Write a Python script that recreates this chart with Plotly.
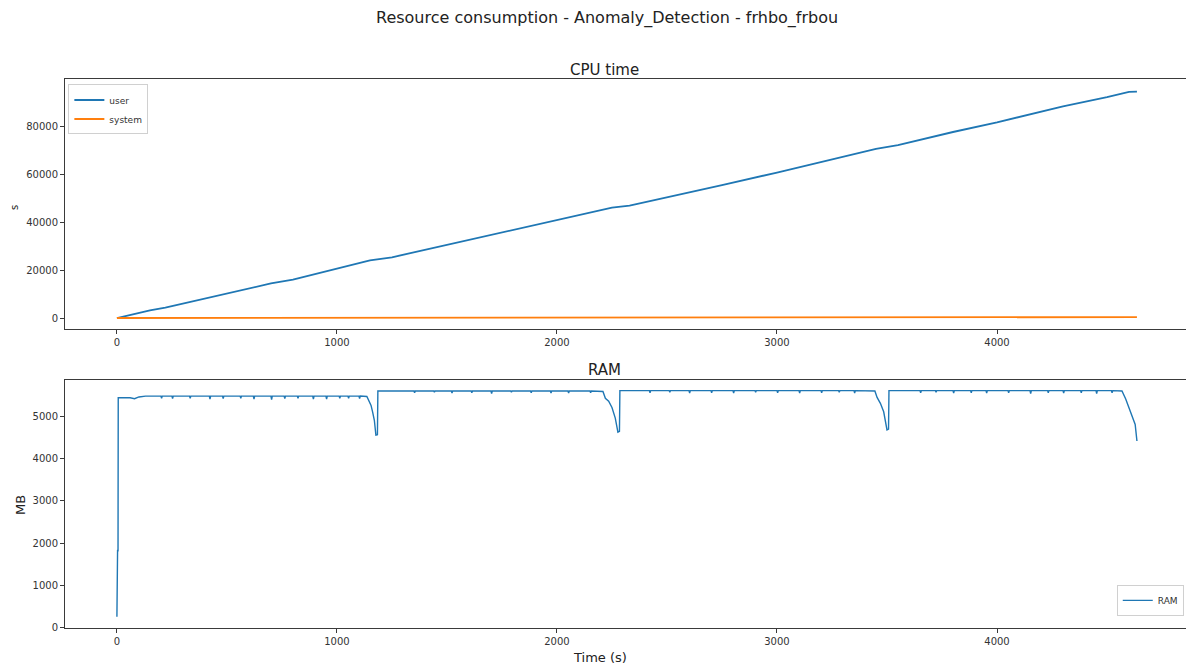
import plotly.graph_objects as go

# ---- CPU time (cumulative seconds) ----
cpu_t = [0, 150, 220, 500, 700, 800, 1000, 1150, 1250, 1500, 1750, 2000,
         2250, 2330, 2500, 2750, 3000, 3250, 3450, 3550, 3800, 4000, 4300,
         4500, 4600, 4636]
cpu_user = [0, 3200, 4300, 10300, 14400, 16000, 20500, 24000, 25300, 30400,
            35600, 40800, 46000, 46800, 50200, 55400, 60600, 66000, 70500,
            72000, 77500, 81500, 88200, 92000, 94200, 94300]
cpu_system = [0, 10, 15, 40, 55, 62, 80, 92, 100, 120, 140, 160, 180, 186,
              200, 220, 240, 260, 276, 284, 304, 320, 344, 360, 368, 371]

# ---- RAM usage (MB) ----
ram_t = [0, 1, 2, 3, 5, 6, 60, 80, 100, 130,
         200, 203, 206, 250, 253, 256, 330, 333, 336, 420, 423, 426,
         480, 483, 486, 560, 563, 566, 620, 623, 626, 700, 703, 706,
         760, 763, 766, 820, 823, 826, 890, 893, 896, 950, 953, 956,
         1010, 1013, 1016, 1050, 1053, 1056, 1100, 1103, 1106,
         1136, 1148, 1155, 1162, 1170, 1177, 1184, 1186,
         1350, 1353, 1356, 1440, 1443, 1446, 1520, 1523, 1526, 1610, 1613, 1616,
         1700, 1703, 1706, 1790, 1793, 1796, 1880, 1883, 1886, 1970, 1973, 1976,
         2050, 2053, 2056, 2150, 2153, 2156,
         2209, 2220, 2235, 2250, 2265, 2277, 2284, 2286,
         2420, 2423, 2426, 2510, 2513, 2516, 2600, 2603, 2606, 2700, 2703, 2706,
         2800, 2803, 2806, 2900, 2903, 2906, 3000, 3003, 3006, 3100, 3103, 3106,
         3200, 3203, 3206, 3280, 3283, 3286, 3350, 3353, 3356,
         3445, 3455, 3470, 3485, 3500, 3507, 3509,
         3650, 3653, 3656, 3720, 3723, 3726, 3800, 3803, 3806, 3880, 3883, 3886,
         3950, 3953, 3956, 4050, 4053, 4056, 4150, 4153, 4156, 4230, 4233, 4236,
         4300, 4303, 4306, 4380, 4383, 4386, 4450, 4453, 4456, 4520, 4523, 4526,
         4568, 4585, 4600, 4615, 4628, 4636]
ram_mb = [260, 940, 730, 1840, 1800, 5430, 5430, 5410, 5450, 5470,
          5470, 5420, 5470, 5470, 5410, 5470, 5470, 5420, 5470, 5470, 5400, 5470,
          5470, 5410, 5470, 5470, 5420, 5470, 5470, 5400, 5470, 5470, 5390, 5470,
          5470, 5410, 5470, 5470, 5420, 5470, 5470, 5400, 5470, 5470, 5400, 5470,
          5470, 5420, 5470, 5470, 5420, 5470, 5470, 5410, 5470,
          5460, 5330, 5250, 5100, 4900, 4550, 4560, 5590,
          5590, 5550, 5590, 5590, 5560, 5590, 5590, 5540, 5590, 5590, 5550, 5590,
          5590, 5530, 5590, 5590, 5560, 5590, 5590, 5550, 5590, 5590, 5540, 5590,
          5590, 5540, 5590, 5590, 5550, 5590,
          5580, 5420, 5350, 5200, 4950, 4620, 4640, 5600,
          5600, 5550, 5600, 5600, 5560, 5600, 5600, 5540, 5600, 5600, 5550, 5600,
          5600, 5540, 5600, 5600, 5560, 5600, 5600, 5550, 5600, 5600, 5540, 5600,
          5600, 5550, 5600, 5600, 5560, 5600, 5600, 5540, 5600,
          5590, 5440, 5300, 5100, 4670, 4690, 5600,
          5600, 5550, 5600, 5600, 5560, 5600, 5600, 5540, 5600, 5600, 5550, 5600,
          5600, 5540, 5600, 5600, 5550, 5600, 5600, 5530, 5600, 5600, 5550, 5600,
          5600, 5540, 5600, 5600, 5550, 5600, 5600, 5530, 5600, 5600, 5550, 5600,
          5590, 5400, 5200, 5000, 4800, 4410]

x_ticks = [0, 1000, 2000, 3000, 4000]
cpu_ticks = [0, 20000, 40000, 60000, 80000]
ram_ticks = [0, 1000, 2000, 3000, 4000, 5000]

BLUE = "#1f77b4"
ORANGE = "#ff7f0e"
FONT = "DejaVu Sans"
SPINE = "#3a3a3a"

fig = go.Figure()
fig.add_trace(go.Scatter(x=cpu_t, y=cpu_user, mode="lines", name="user",
                         line=dict(color=BLUE, width=1.8),
                         xaxis="x", yaxis="y", legend="legend"))
fig.add_trace(go.Scatter(x=cpu_t, y=cpu_system, mode="lines", name="system",
                         line=dict(color=ORANGE, width=1.8),
                         xaxis="x", yaxis="y", legend="legend"))
fig.add_trace(go.Scatter(x=ram_t, y=ram_mb, mode="lines", name="RAM",
                         line=dict(color=BLUE, width=1.4),
                         xaxis="x2", yaxis="y2", legend="legend2"))

axis_common = dict(showgrid=False, zeroline=False, showline=True,
                   linecolor=SPINE, linewidth=1, ticks="outside", ticklen=4,
                   tickcolor=SPINE, tickfont=dict(family=FONT, size=10, color="#333"))

top_dom = [0.5446, 1.0]
bot_dom = [0.0, 0.4517]

fig.update_layout(
    width=1186, height=668,
    margin=dict(l=65, r=0, t=79, b=40),
    paper_bgcolor="white", plot_bgcolor="white",
    font=dict(family=FONT, color="#222"),
    xaxis=dict(domain=[0, 1], anchor="y", range=[-236, 4859], mirror=True,
               tickvals=x_ticks, **axis_common),
    yaxis=dict(domain=top_dom, anchor="x", range=[-4583, 99583], mirror=False,
               tickvals=cpu_ticks, tickformat="d", **axis_common),
    xaxis2=dict(domain=[0, 1], anchor="y2", range=[-236, 4859], mirror=True,
                tickvals=x_ticks, **axis_common),
    yaxis2=dict(domain=bot_dom, anchor="x2", range=[-5, 5850], mirror=False,
                tickvals=ram_ticks, tickformat="d", **axis_common),
    legend=dict(x=0.003, y=0.99, xanchor="left", yanchor="top",
                bgcolor="rgba(255,255,255,0.9)", bordercolor="#d0d0d0", borderwidth=1,
                font=dict(family=FONT, size=9, color="#333"),
                itemwidth=30, tracegroupgap=0),
    legend2=dict(x=0.998, y=0.022, xanchor="right", yanchor="bottom",
                 bgcolor="rgba(255,255,255,0.9)", bordercolor="#d0d0d0", borderwidth=1,
                 font=dict(family=FONT, size=9, color="#333"), itemwidth=30),
    showlegend=True,
)

def paper_x(px):
    return (px - 65) / 1121.0

def paper_y(py):
    return (628 - py) / 549.0

annotations = [
    dict(text="Resource consumption - Anomaly_Detection - frhbo_frbou",
         x=paper_x(607), y=paper_y(18), font=dict(size=16, family=FONT, color="#222")),
    dict(text="CPU time", x=paper_x(604), y=paper_y(70),
         font=dict(size=15, family=FONT, color="#222")),
    dict(text="RAM", x=paper_x(604), y=paper_y(370),
         font=dict(size=15, family=FONT, color="#222")),
    dict(text="Time (s)", x=paper_x(600), y=paper_y(657),
         font=dict(size=13, family=FONT, color="#222")),
    dict(text="s", x=paper_x(14), y=paper_y(208), textangle=-90,
         font=dict(size=10, family=FONT, color="#222")),
    dict(text="MB", x=paper_x(20), y=paper_y(505), textangle=-90,
         font=dict(size=13, family=FONT, color="#222")),
]
for a in annotations:
    a.update(xref="paper", yref="paper", showarrow=False,
             xanchor="center", yanchor="middle")
fig.update_layout(annotations=annotations)

fig.write_html("out.html")
